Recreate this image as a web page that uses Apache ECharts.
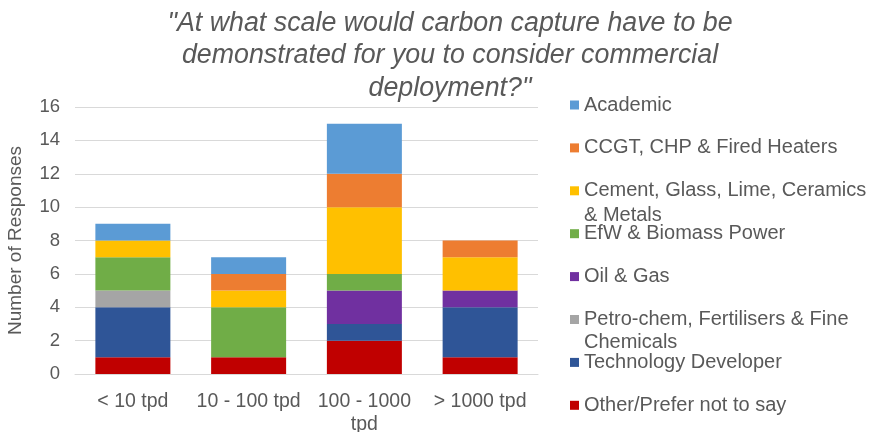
<!DOCTYPE html>
<html>
<head>
<meta charset="utf-8">
<script src="https://cdn.jsdelivr.net/npm/echarts@6/dist/echarts.min.js"></script>
<style>
  html, body { margin: 0; padding: 0; background: #ffffff; }
  #chart { width: 872px; height: 432px; }
</style>
</head>
<body>
<div id="chart"></div>
<script>
// categories along the x axis
const categories = ['< 10 tpd', '10 - 100 tpd', '100 - 1000\ntpd', '> 1000 tpd']

// series, bottom of the stack first
const seriesNames = [
  'Other/Prefer not to say',
  'Technology Developer',
  'Petro-chem, Fertilisers & Fine Chemicals',
  'Oil & Gas',
  'EfW & Biomass Power',
  'Cement, Glass, Lime, Ceramics & Metals',
  'CCGT, CHP & Fired Heaters',
  'Academic',
]
const otherVals = [1, 1, 2, 1]
const techVals = [3, 0, 1, 3]
const petroVals = [1, 0, 0, 0]
const oilVals = [0, 0, 2, 1]
const efwVals = [2, 3, 1, 0]
const cementVals = [1, 1, 4, 2]
const ccgtVals = [0, 1, 2, 1]
const academicVals = [1, 1, 3, 0]
const seriesValues = [otherVals, techVals, petroVals, oilVals, efwVals, cementVals, ccgtVals, academicVals]

const yTicks = [0, 2, 4, 6, 8, 10, 12, 14, 16]

const colors = ['#c00000', '#2f5597', '#a5a5a5', '#7030a0', '#70ad47', '#ffc000', '#ed7d31', '#5b9bd5']

// legend first lines (second lines drawn as graphic text)
const legendFirstLine = {
  'Cement, Glass, Lime, Ceramics & Metals': 'Cement, Glass, Lime, Ceramics',
  'Petro-chem, Fertilisers & Fine Chemicals': 'Petro-chem, Fertilisers & Fine',
}

const textColor = '#595959'
const font = 'Liberation Sans, Arial, sans-serif'

const chart = echarts.init(document.getElementById('chart'))

chart.setOption({
  animation: false,
  color: colors,
  textStyle: { fontFamily: font },
  title: {
    text: '"At what scale would carbon capture have to be\ndemonstrated for you to consider commercial\ndeployment?"',
    left: 450,
    top: 7,
    padding: 0,
    textAlign: 'center',
    textStyle: {
      fontFamily: font,
      fontStyle: 'italic',
      fontWeight: 'normal',
      fontSize: 26.8,
      lineHeight: 32.5,
      color: textColor,
    },
  },
  legend: {
    orient: 'vertical',
    left: 570,
    top: 95,
    padding: 0,
    itemWidth: 9,
    itemHeight: 9,
    itemGap: 22.9,
    icon: 'rect',
    data: seriesNames.slice().reverse(),
    formatter: (name) => legendFirstLine[name] || name,
    textStyle: {
      fontFamily: font,
      fontSize: 20,
      lineHeight: 20,
      color: textColor,
    },
  },
  graphic: [
    {
      type: 'text',
      left: 584,
      top: 205,
      style: { text: '& Metals', font: '20px ' + font, fill: textColor },
    },
    {
      type: 'text',
      left: 584,
      top: 332,
      style: { text: 'Chemicals', font: '20px ' + font, fill: textColor },
    },
  ],
  grid: {
    left: 75,
    right: 334,
    top: 107,
    bottom: 58,
    outerBoundsMode: 'none',
  },
  xAxis: {
    type: 'category',
    data: categories,
    axisLine: { lineStyle: { color: '#d9d9d9' } },
    axisTick: { show: false },
    axisLabel: {
      color: textColor,
      fontSize: 19.5,
      margin: 16,
      lineHeight: 23,
      interval: 0,
    },
  },
  yAxis: {
    type: 'value',
    min: yTicks[0],
    max: yTicks[yTicks.length - 1],
    interval: 2,
    name: 'Number of Responses',
    nameLocation: 'middle',
    nameGap: 50,
    nameTextStyle: { color: textColor, fontSize: 19 },
    axisLabel: { color: textColor, fontSize: 18.5, margin: 15 },
    splitLine: { lineStyle: { color: '#d9d9d9', width: 1 } },
  },
  series: seriesNames.map((name, i) => ({
    name,
    type: 'bar',
    stack: 'total',
    barWidth: 75,
    data: seriesValues[i],
  })),
})
</script>
</body>
</html>
